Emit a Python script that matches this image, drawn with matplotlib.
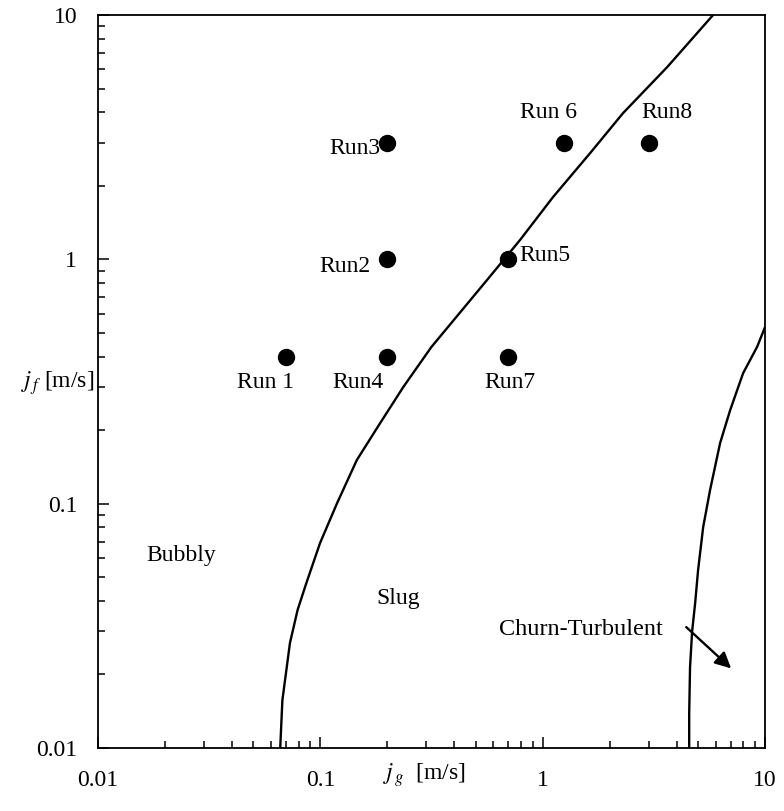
import matplotlib
matplotlib.use('Agg')
import matplotlib.pyplot as plt
from matplotlib.ticker import LogLocator, NullFormatter, FixedLocator, FixedFormatter

plt.rcParams['font.family'] = ['Liberation Serif', 'DejaVu Serif']
plt.rcParams['mathtext.fontset'] = 'stix'

# Experimental runs: gas and liquid superficial velocities [m/s]
run_names = ['Run 1', 'Run2', 'Run3', 'Run4', 'Run5', 'Run 6', 'Run7', 'Run8']
run_jg = [0.07, 0.2, 0.2, 0.2, 0.7, 1.25, 0.7, 3.0]
run_jf = [0.4, 1.0, 3.0, 0.4, 1.0, 3.0, 0.4, 3.0]

# Bubbly / slug transition boundary
bs_jg = [0.066, 0.0675, 0.073, 0.079, 0.0865, 0.0997, 0.119, 0.146, 0.186,
         0.236, 0.316, 0.562, 0.791, 1.114, 1.634, 2.30, 3.63, 5.84]
bs_jf = [0.01, 0.0157, 0.0269, 0.0367, 0.0473, 0.069, 0.1006, 0.151, 0.214,
         0.300, 0.438, 0.823, 1.20, 1.80, 2.72, 3.97, 6.12, 10.0]

# Slug / churn-turbulent transition boundary
sc_jg = [4.56, 4.56, 4.60, 4.70, 4.85, 5.0, 5.27, 5.66, 6.28, 6.97, 7.97, 9.21, 10.0]
sc_jf = [0.01, 0.0139, 0.0214, 0.0300, 0.0392, 0.0535, 0.0802, 0.1137, 0.177,
         0.2415, 0.342, 0.438, 0.528]

# label offsets (points) and alignment for each run
offsets = {
    'Run 1': (-15, -19, 'center'),
    'Run2': (-12, -5, 'right'),
    'Run3': (-5, -4, 'right'),
    'Run4': (-21, -19, 'center'),
    'Run5': (8, 3, 'left'),
    'Run 6': (-11, 22, 'center'),
    'Run7': (1, -19, 'center'),
    'Run8': (13, 22, 'center'),
}

fig = plt.figure(figsize=(7.84, 8.11), dpi=100)
ax = fig.add_axes([0.125, 0.0777, 0.8508, 0.9038])

ax.plot(bs_jg, bs_jf, color='black', lw=1.7)
ax.plot(sc_jg, sc_jf, color='black', lw=1.7)
ax.plot(run_jg, run_jf, 'o', color='black', markersize=11.5)

for name, x, y in zip(run_names, run_jg, run_jf):
    dx, dy, ha = offsets[name]
    ax.annotate(name, (x, y), xytext=(dx, dy), textcoords='offset points',
                ha=ha, va='center', fontsize=17)

ax.text(0.0236, 0.0616, 'Bubbly', ha='center', va='center', fontsize=17)
ax.text(0.224, 0.041, 'Slug', ha='center', va='center', fontsize=17)
ax.text(0.635, 0.0305, 'Churn-Turbulent', ha='left', va='center', fontsize=17.5)
ax.annotate('', xy=(7.19, 0.0208), xytext=(4.33, 0.0318),
            arrowprops=dict(arrowstyle='-|>', mutation_scale=24, lw=1.7, color='black'))

ax.set_xscale('log')
ax.set_yscale('log')
ax.set_xlim(0.01, 10)
ax.set_ylim(0.01, 10)

ticks = [0.01, 0.1, 1, 10]
tick_labels = ['0.01', '0.1', '1', '10']
for axis in (ax.xaxis, ax.yaxis):
    axis.set_major_locator(FixedLocator(ticks))
    axis.set_major_formatter(FixedFormatter(tick_labels))
    axis.set_minor_locator(LogLocator(base=10, subs=range(2, 10)))
    axis.set_minor_formatter(NullFormatter())

ax.tick_params(which='both', direction='in', top=False, right=False, labelsize=17, width=1.1)
ax.tick_params(which='major', length=8)
ax.tick_params(which='minor', length=5)
ax.tick_params(axis='y', pad=15)
ax.tick_params(axis='x', pad=16)

for s in ax.spines.values():
    s.set_linewidth(1.3)

ax.set_xlabel('$j_{\\,g}$  [m/s]', fontsize=17, va='center')
ax.xaxis.set_label_coords(0.49, -0.037)
ax.set_ylabel('$j_{\\,f}$ [m/s]', fontsize=17, rotation=0, ha='right', va='center')
ax.yaxis.set_label_coords(-0.006, 0.498)

fig.savefig('out.png', dpi=100)
